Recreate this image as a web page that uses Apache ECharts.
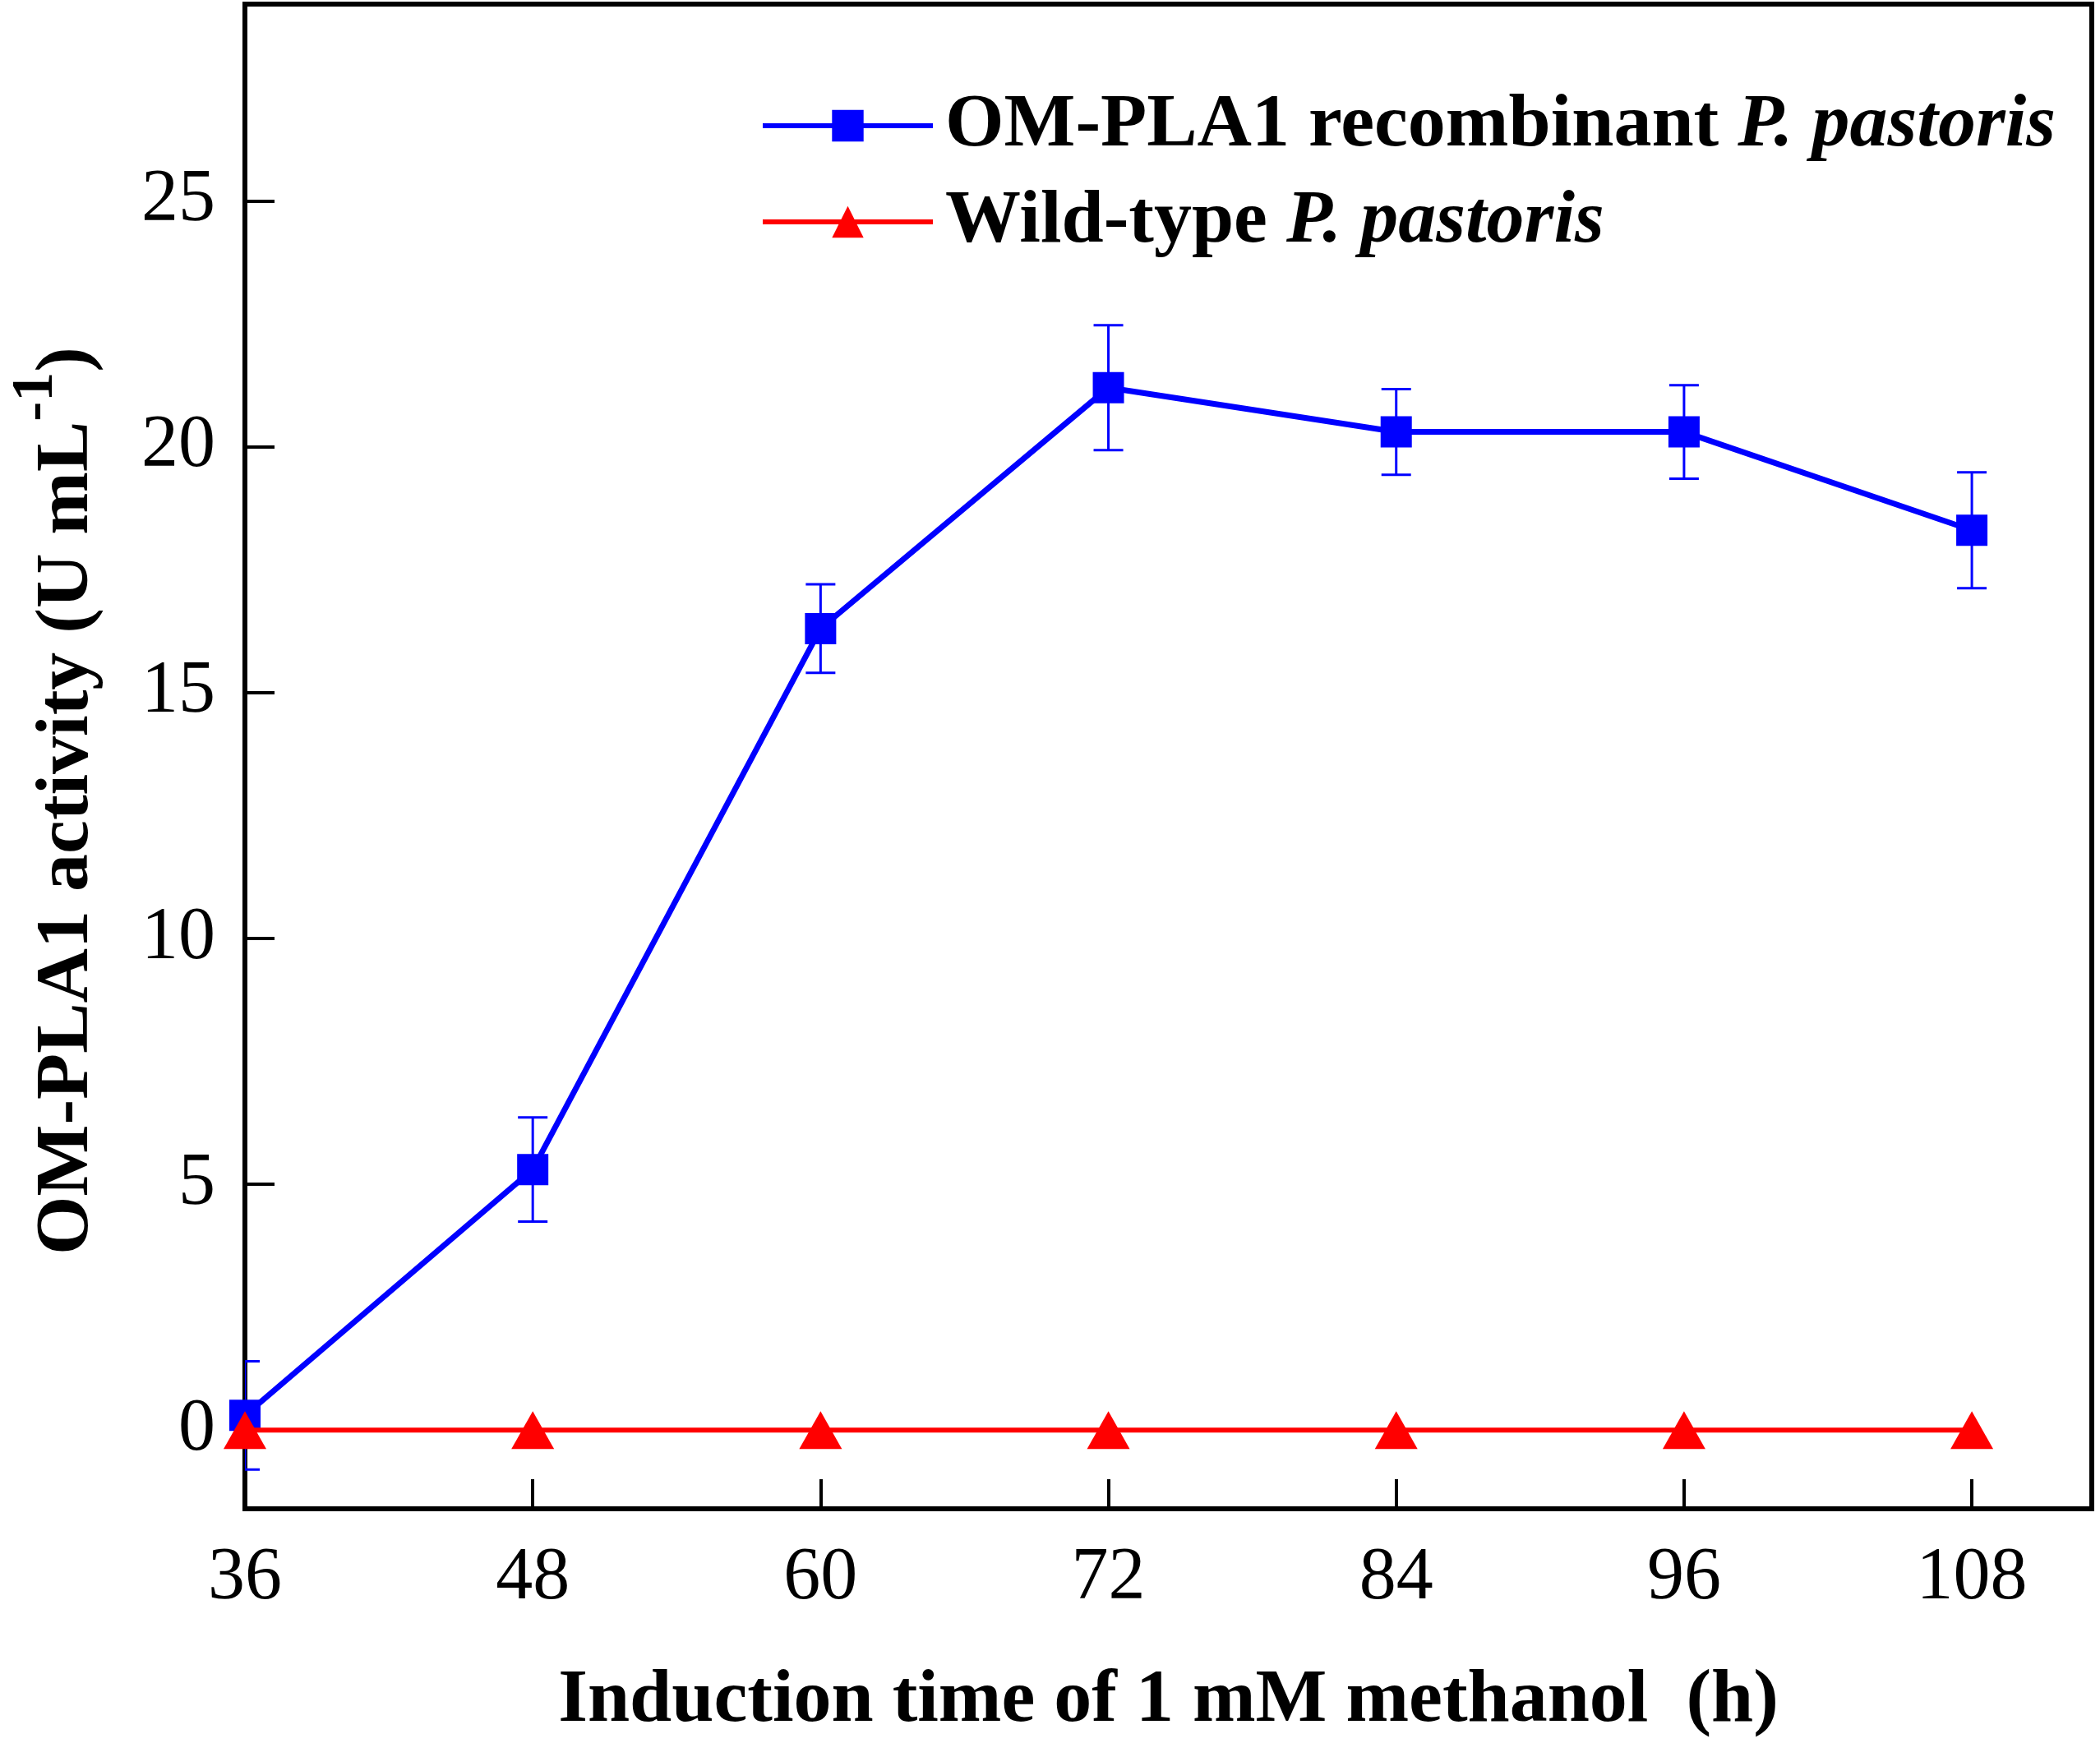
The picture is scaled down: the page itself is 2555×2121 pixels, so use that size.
<!DOCTYPE html>
<html>
	<head>
		<meta charset="utf-8">
		<title></title>
		<style type="text/css">
			* {
				margin: 0;
				padding: 0;
			}

			html,
			body {
				width: 100%;
				height: 100%;
				background: #fff;
			}

			#main {
				width: 2555px;
				height: 2121px;
			}
		</style>
	</head>
	<body>
		<div id="main"></div>
		<script src="https://cdn.jsdelivr.net/npm/echarts@6/dist/echarts.min.js"></script>
		<script>
			var hours = [36, 48, 60, 72, 84, 96, 108]
			var recombinant = [0.3, 5.3, 16.3, 21.2, 20.3, 20.3, 18.3]
			var recombinantErr = [1.1, 1.06, 0.9, 1.27, 0.87, 0.95, 1.18]
			var wildtype = [0, 0, 0, 0, 0, 0, 0]
			var yTicks = [0, 5, 10, 15, 20, 25]

			var fontName = '"Liberation Serif", "Times New Roman", serif'

			function pairs(xs, ys) {
				var out = []
				for (let i = 0; i < xs.length; i++) {
					out.push([xs[i], ys[i]])
				}
				return out
			}

			var errData = []
			for (let i = 0; i < hours.length; i++) {
				errData.push([hours[i], recombinant[i] - recombinantErr[i], recombinant[i] + recombinantErr[i]])
			}

			var myChart = echarts.init(document.getElementById('main'));
			var option = {
				backgroundColor: '#fff',
				animation: false,
				grid: {
					left: 298,
					right: 10,
					top: 5,
					bottom: 280,
					show: true,
					borderColor: '#000',
					borderWidth: 6,
					backgroundColor: 'transparent'
				},
				legend: {
					orient: 'vertical',
					left: 920,
					top: 102,
					itemWidth: 207,
					itemHeight: 48,
					itemGap: 25,
					data: ['rec', 'wild'],
					lineStyle: {
						width: 6
					},
					formatter: function(name) {
						if (name == 'rec') {
							return '{b|OM-PLA1 recombinant }{i|P. pastoris}'
						}
						return '{b|Wild-type }{i|P. pastoris}'
					},
					textStyle: {
						rich: {
							b: {
								fontFamily: fontName,
								fontWeight: 'bold',
								fontSize: 92,
								lineHeight: 100,
								color: '#000',
								padding: [0, 0, 0, 10]
							},
							i: {
								fontFamily: fontName,
								fontWeight: 'bold',
								fontStyle: 'italic',
								fontSize: 92,
								lineHeight: 100,
								color: '#000'
							}
						}
					}
				},
				xAxis: {
					type: 'value',
					min: 36,
					max: 113,
					name: 'Induction time of 1 mM methanol  (h)',
					nameLocation: 'middle',
					nameGap: 188,
					nameTextStyle: {
						fontFamily: fontName,
						fontWeight: 'bold',
						fontSize: 92,
						color: '#000'
					},
					axisLine: {
						onZero: false,
						lineStyle: {
							color: '#000',
							width: 6
						}
					},
					axisTick: {
						inside: true,
						length: 36,
						customValues: hours,
						lineStyle: {
							color: '#000',
							width: 4
						}
					},
					axisLabel: {
						customValues: hours,
						margin: 40,
						fontFamily: fontName,
						fontSize: 90,
						color: '#000'
					},
					splitLine: {
						show: false
					}
				},
				yAxis: {
					type: 'value',
					min: -1.6,
					max: 29,
					name: '{a|OM-PLA1 activity (U mL}{s|-1}{a|)}',
					nameLocation: 'middle',
					nameGap: 170,
					nameTextStyle: {
						padding: [0, 108, 0, 0],
						rich: {
							a: {
								fontFamily: fontName,
								fontWeight: 'bold',
								fontSize: 92,
								lineHeight: 120,
								verticalAlign: 'bottom',
								color: '#000'
							},
							s: {
								fontFamily: fontName,
								fontWeight: 'bold',
								fontSize: 72,
								lineHeight: 120,
								verticalAlign: 'top',
								color: '#000'
							}
						}
					},
					axisLine: {
						onZero: false,
						lineStyle: {
							color: '#000',
							width: 6
						}
					},
					axisTick: {
						inside: true,
						length: 36,
						customValues: yTicks,
						lineStyle: {
							color: '#000',
							width: 4
						}
					},
					axisLabel: {
						customValues: yTicks,
						margin: 36,
						fontFamily: fontName,
						fontSize: 90,
						color: '#000'
					},
					splitLine: {
						show: false
					}
				},
				series: [{
						name: 'rec',
						type: 'line',
						data: pairs(hours, recombinant),
						symbol: 'rect',
						symbolSize: 38,
						z: 4,
						color: '#0000ff',
						lineStyle: {
							color: '#0000ff',
							width: 7
						},
						itemStyle: {
							color: '#0000ff'
						}
					},
					{
						name: 'recErr',
						type: 'custom',
						data: errData,
						z: 3,
						clip: true,
						renderItem: function(params, api) {
							var x = api.value(0)
							var top = api.coord([x, api.value(2)])
							var bot = api.coord([x, api.value(1)])
							var w = 18
							var st = {
								stroke: '#0000ff',
								lineWidth: 3
							}
							return {
								type: 'group',
								children: [{
										type: 'line',
										shape: { x1: top[0], y1: top[1], x2: bot[0], y2: bot[1] },
										style: st
									},
									{
										type: 'line',
										shape: { x1: top[0] - w, y1: top[1], x2: top[0] + w, y2: top[1] },
										style: st
									},
									{
										type: 'line',
										shape: { x1: bot[0] - w, y1: bot[1], x2: bot[0] + w, y2: bot[1] },
										style: st
									}
								]
							}
						}
					},
					{
						name: 'wild',
						type: 'line',
						data: pairs(hours, wildtype),
						symbol: 'triangle',
						symbolSize: [52, 46],
						z: 5,
						color: '#ff0000',
						lineStyle: {
							color: '#ff0000',
							width: 6
						},
						itemStyle: {
							color: '#ff0000'
						}
					}
				]
			};
			myChart.setOption(option);
		</script>
	</body>
</html>
